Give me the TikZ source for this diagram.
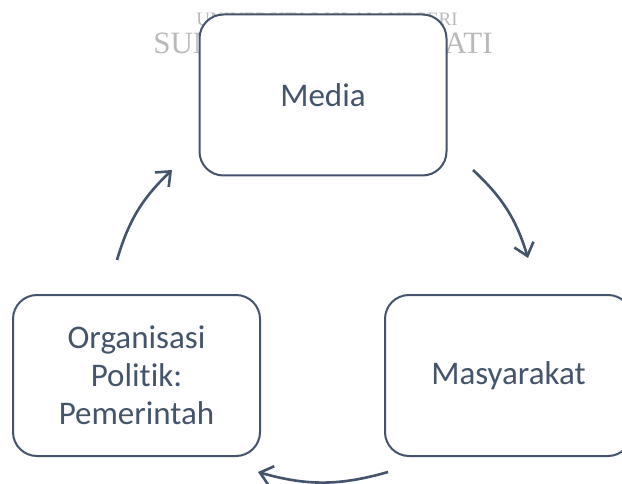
\documentclass[tikz,border=0pt]{standalone}
\usepackage{fontspec}
\setmainfont{Carlito}[Ligatures=NoCommon]
\newfontfamily\wmfont{Liberation Serif}
\usetikzlibrary{arrows.meta}
\definecolor{slate}{RGB}{68,84,106}
\definecolor{wmgray}{RGB}{185,185,185}
\tikzset{
    roundbox/.style={
        draw=slate,
        line width=2pt,
        rounded corners=24pt,
        fill=white,
        text=slate,
        align=center,
        inner sep=0pt,
        minimum width=247pt,
        minimum height=161pt,
        font=\fontsize{33}{38}\selectfont
    },
    % arrows of the cycle
    slatearrow/.style={
        bend left=15,
        line width=2.6pt,
        slate,
        ->,
        >={Straight Barb[length=12pt, width=20pt]}
    }
}
\begin{document}
\begin{tikzpicture}[x=1pt,y=1pt]
    \clip (0,0) rectangle (622,483);

    % watermark
    \node[wmgray, font=\wmfont\fontsize{19}{19}\selectfont] (wmtop) at (327,464) {UNIVERSITAS ISLAM NEGERI};
    \node[wmgray, font=\wmfont\fontsize{31}{31}\selectfont] (wmbot) at (323,440) {SUNAN GUNUNG DJATI};

    % boxes
    \node[roundbox] (media) at (323,388) {Media};
    \node[roundbox] (org) at (136.5,107.5) {Organisasi\\Politik:\\Pemerintah};
    \node[roundbox] (masy) at (508.5,107.5) {Masyarakat};

    % free ends of the arrows
    \path
    (117,223) coordinate (o1)
    (172,313) coordinate (m1)
    (473,313) coordinate (m2)
    (528,225) coordinate (s1)
    (388,11) coordinate (s2)
    (258,11) coordinate (o2)
    ;

    \draw[slatearrow] (o1) to (m1);
    \draw[slatearrow] (m2) to (s1);
    \draw[slatearrow, bend left=16] (s2) to (o2);
\end{tikzpicture}
\end{document}
